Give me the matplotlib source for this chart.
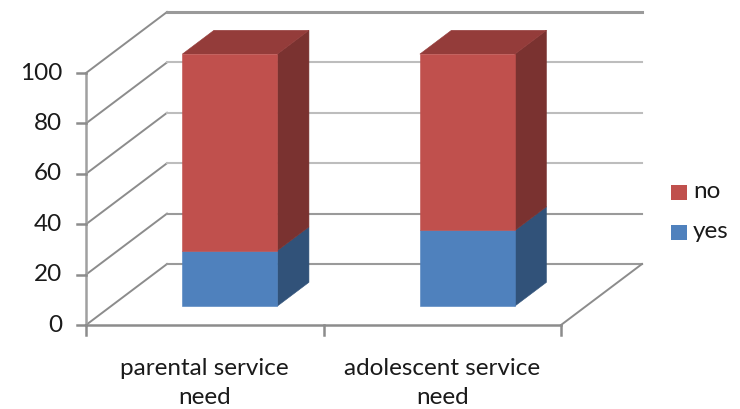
import matplotlib
matplotlib.use("Agg")
import matplotlib.pyplot as plt
from matplotlib.patches import Polygon, Rectangle

plt.rcParams['font.family'] = ['Lato', 'DejaVu Sans']

# Dados
categorias = ['parental service\nneed', 'adolescent service\nneed']
yes = [22, 30]
no = [78, 70]
ticks_y = [0, 20, 40, 60, 80, 100]

# Cores de cada face
cor_yes = {'frente': '#4F81BD', 'lado': '#315279', 'topo': '#3F6797'}
cor_no = {'frente': '#C0504D', 'lado': '#7A3230', 'topo': '#943C3A'}
cor_eixo = '#8C8C8C'

# Projecao obliqua: o fundo do grafico desloca em x (categorias) e y (valor)
prof_x = 0.341
prof_y = 24.2
px_x = 237.5
px_y = 2.52


def proj(x, y, d):
    return (x + d * prof_x, y + d * prof_y)


fig = plt.figure(figsize=(7.4, 4.09), dpi=100)
ax = fig.add_axes([0, 0, 1, 1])
ax.set_xlim(-86 / px_x, (740 - 86) / px_x)
ax.set_ylim(-(409 - 325) / px_y, 325 / px_y)
ax.axis('off')

n = len(categorias)
topo = ticks_y[-1]

# Grade nas paredes e no chao
for t in ticks_y:
    claro = t in (40, 60, 80)
    ax.plot(*zip(proj(0, t, 0), proj(0, t, 1)), color=cor_eixo, lw=1.4, zorder=1)
    ax.plot(*zip(proj(0, t, 1), proj(n, t, 1)), color='#BDBDBD' if claro else '#9A9A9A',
            lw=2.2 if t == topo else 1.5, zorder=1)
ax.plot(*zip(proj(n, 0, 0), proj(n, 0, 1)), color=cor_eixo, lw=1.4, zorder=1)

# Eixos da frente
ax.plot([0, 0], [0, topo], color='#A0A0A0', lw=1.8, zorder=2)
ax.plot([0, n], [0, 0], color=cor_eixo, lw=1.8, zorder=2)
for t in ticks_y:
    ax.plot([-9 / px_x, 0], [t, t], color=cor_eixo, lw=1.8, zorder=2)
    ax.text(-24 / px_x, t, str(t), ha='right', va='center', fontsize=17.5, color='#1A1A1A')
for i in range(n + 1):
    ax.plot([i, i], [0, -10 / px_y], color=cor_eixo, lw=1.8, zorder=2)

# Barras empilhadas
larg = 0.4
d0 = 0.31
d1 = 0.70


def face(pts, cor, z):
    ax.add_patch(Polygon(pts, closed=True, facecolor=cor, edgecolor=cor, lw=0.4, zorder=z))


for i in range(n):
    x0 = i + 0.3
    x1 = x0 + larg
    base = 0
    for val, cor in ((yes[i], cor_yes), (no[i], cor_no)):
        y0, y1 = base, base + val
        face([proj(x1, y0, d0), proj(x1, y0, d1), proj(x1, y1, d1), proj(x1, y1, d0)], cor['lado'], 3)
        face([proj(x0, y0, d0), proj(x1, y0, d0), proj(x1, y1, d0), proj(x0, y1, d0)], cor['frente'], 4)
        base = y1
    face([proj(x0, base, d0), proj(x1, base, d0), proj(x1, base, d1), proj(x0, base, d1)], cor_no['topo'], 3)
    ax.text(i + 0.5, -33 / px_y, categorias[i], ha='center', va='top', fontsize=17.5,
            color='#1A1A1A', linespacing=1.5)

# Legenda
fig_ax = fig.add_axes([0, 0, 1, 1], facecolor='none')
fig_ax.set_xlim(0, 740)
fig_ax.set_ylim(409, 0)
fig_ax.axis('off')
for nome, cor, yc in (('no', cor_no['frente'], 192), ('yes', cor_yes['frente'], 232)):
    fig_ax.add_patch(Rectangle((671, yc - 7.5), 16, 15, facecolor=cor, edgecolor='none'))
    fig_ax.text(693, yc, nome, ha='left', va='center', fontsize=17.5, color='#1A1A1A')

fig.savefig('out.png', dpi=100)
